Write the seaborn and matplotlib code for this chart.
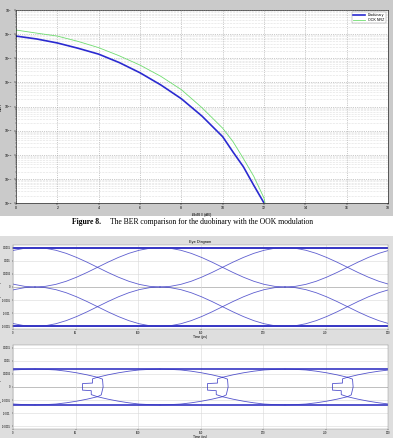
import numpy as np
import pandas as pd
import matplotlib
matplotlib.use('Agg')
import matplotlib.pyplot as plt
import seaborn as sns
from matplotlib.patches import Rectangle
from matplotlib.ticker import LogLocator, NullFormatter

plt.rcParams['font.family'] = ['Liberation Sans', 'DejaVu Sans']

# BER curves
ebn0_duo = [0, 1, 2, 3, 4, 5, 6, 7, 8, 9, 10, 10.5, 11, 11.5, 12]
ber_duo = [0.083, 0.063, 0.043, 0.026, 0.0148, 6.6e-3, 2.5e-3, 7.9e-4, 2.1e-4,
           4e-5, 5.6e-6, 1.3e-6, 3.2e-7, 5.5e-8, 1e-8]
ebn0_ook = [0, 1, 2, 3, 4, 5, 6, 7, 8, 9, 10, 10.5, 11, 11.5, 12, 12.05]
ber_ook = [0.148, 0.11, 0.083, 0.05, 0.0275, 0.0126, 5.2e-3, 1.8e-3, 5e-4,
           8.9e-5, 1.26e-5, 3.5e-6, 7e-7, 1.3e-7, 1.6e-8, 1e-8]
ber_xticks = [0, 2, 4, 6, 8, 10, 12, 14, 16, 18]

# eye diagram
time_ticks = [0, 50, 100, 150, 200, 250, 300]
amp_ticks = [0.0015, 0.001, 0.0005, 0, -0.0005, -0.001, -0.0015]
amp_labels = ['0.0015', '0.001', '0.0005', '0', '-0.0005', '-0.001', '-0.0015']
bit_centers = [-82.4, 17.6, 117.6, 217.6, 317.6]
bit_ps = 100
trans_shape = [0, 0.017, 0.067, 0.146, 0.25, 0.37, 0.5, 0.63, 0.75, 0.854, 0.933, 0.983, 1]
i_levels = [0.0015, 0, -0.0015]
i_pairs = [(0.0015, 0), (0, 0.0015), (-0.0015, 0), (0, -0.0015)]
q_level = 0.00068
q_pinch = 0.00037
q_dip = [0, 0.03, 0.1, 0.25, 0.45, 0.7, 1, 0.7, 0.45, 0.25, 0.1, 0.03, 0]
spike_dt = [0, -4, -4, -12, -12, -5, -5, 0, 3, 4.5, 4, 0]
spike_y = [0.00037, 0.00031, 0.00015, 0.00013, -0.00012, -0.00014, -0.00029,
           -0.00037, -0.0003, 0, 0.0003, 0.00037]

W, H = 393, 438
blue = '#3636c4'


def pos(x0, y0, x1, y1):
    return [x0 / W, 1 - y1 / H, (x1 - x0) / W, (y1 - y0) / H]


fig = plt.figure(figsize=(W / 100, H / 100), dpi=100, facecolor='white')
fig.patches.append(Rectangle((0, 1 - 216 / H), 1, 216 / H, transform=fig.transFigure,
                             facecolor='#cacaca', edgecolor='none', zorder=-10))
fig.patches.append(Rectangle((0, 0), 1, (H - 236) / H, transform=fig.transFigure,
                             facecolor='#dedede', edgecolor='none', zorder=-10))

# ---- BER plot ----
ax = fig.add_axes(pos(16, 10, 388, 203))
sns.lineplot(x=ebn0_duo, y=ber_duo, ax=ax, color='#2a2ad0', lw=1.2, label='Duobinary', sort=False)
sns.lineplot(x=ebn0_ook, y=ber_ook, ax=ax, color='#70dd70', lw=0.6, label='OOK NRZ', sort=False)
ax.set_yscale('log')
ax.set_ylim(1e-8, 1)
ax.set_xlim(0, 18)
ax.set_xticks(ber_xticks)
ax.yaxis.set_major_locator(LogLocator(base=10, numticks=12))
ax.yaxis.set_minor_locator(LogLocator(base=10, subs=range(2, 10), numticks=12))
ax.yaxis.set_minor_formatter(NullFormatter())
ax.grid(which='major', ls=':', color='#9a9a9a', lw=0.5)
ax.grid(which='minor', axis='y', ls=':', color='#c4c4c4', lw=0.4)
ax.tick_params(labelsize=2.5, length=1.5, width=0.3, pad=1)
ax.tick_params(which='minor', length=0.8, width=0.2)
ax.set_xlabel('$E_b/N_0$ (dB)', fontsize=3, labelpad=0.5)
ax.set_ylabel('BER', fontsize=2.8)
ax.yaxis.set_label_coords(-0.036, 0.5)
for s in ax.spines.values():
    s.set_linewidth(0.4)
leg = ax.legend(loc='upper right', fontsize=2.6, handlelength=3.5, fancybox=False,
                borderpad=0.3, labelspacing=0.2, framealpha=1, borderaxespad=0.6)
leg.get_frame().set_edgecolor('#888888')
leg.get_frame().set_linewidth(0.3)

# ---- caption ----
renderer = fig.canvas.get_renderer()
t1 = fig.text(72 / W, 1 - 222 / H, 'Figure 8.', family='Liberation Serif', weight='bold',
              fontsize=5.5, ha='left', va='center')
x_end = t1.get_window_extent(renderer).x1
fig.text((x_end + 9) / W, 1 - 222 / H,
         'The BER comparison for the duobinary with the OOK modulation',
         family='Liberation Serif', fontsize=5.5, ha='left', va='center')

# ---- eye diagram traces ----
frac = [k / (len(trans_shape) - 1) for k in range(len(trans_shape))]
rows_i, rows_q = [], []
tid = 0
for c0 in bit_centers[:-1]:
    for a, b in i_pairs:
        for f, s in zip(frac, trans_shape):
            rows_i.append((c0 + f * bit_ps, a + (b - a) * s, tid))
        tid += 1
    for sign in (1, -1):
        for f, d in zip(frac, q_dip):
            rows_q.append((c0 + f * bit_ps, sign * (q_level - (q_level - q_pinch) * d), tid))
        tid += 1
    xc = c0 + bit_ps / 2
    for dt, yy in zip(spike_dt, spike_y):
        rows_q.append((xc + dt, yy, tid))
    tid += 1
df_i = pd.DataFrame(rows_i, columns=['t', 'amp', 'trace'])
df_q = pd.DataFrame(rows_q, columns=['t', 'amp', 'trace'])

ax_i = fig.add_axes(pos(13, 245, 388, 329))
ax_q = fig.add_axes(pos(13, 345, 388, 429))

sns.lineplot(data=df_i, x='t', y='amp', units='trace', estimator=None, sort=False,
             ax=ax_i, color=blue, lw=0.6, alpha=0.8)
for lvl in (i_levels[0], i_levels[2]):
    ax_i.plot([time_ticks[0], time_ticks[-1]], [lvl, lvl], color=blue, lw=1.4)
sns.lineplot(data=df_q, x='t', y='amp', units='trace', estimator=None, sort=False,
             ax=ax_q, color=blue, lw=0.6, alpha=0.85)
for lvl in (q_level, -q_level):
    ax_q.plot([time_ticks[0], time_ticks[-1]], [lvl, lvl], color=blue, lw=1.2)

ax_i.set_ylabel('In-phase Amplitude', fontsize=2.3)
ax_q.set_ylabel('Quadrature Amplitude', fontsize=2.3)
for a in (ax_i, ax_q):
    a.set_xlim(time_ticks[0], time_ticks[-1])
    a.set_ylim(-0.0016, 0.0016)
    a.set_xticks(time_ticks)
    a.set_yticks(amp_ticks)
    a.set_yticklabels(amp_labels)
    a.axhline(0, color='#909090', lw=0.6, zorder=0)
    a.grid(color='#d8d8d8', lw=0.4)
    a.set_axisbelow(True)
    a.tick_params(labelsize=1.9, length=1, width=0.3, pad=0.6)
    a.set_xlabel('Time (ps)', fontsize=2.4, labelpad=0.1)
    a.yaxis.set_label_coords(-0.028, 0.5)
    for s in a.spines.values():
        s.set_linewidth(0.3)
        s.set_color('#888888')
ax_i.set_title('Eye Diagram', fontsize=2.8, pad=1.5)

fig.savefig('out.png', dpi=100)
